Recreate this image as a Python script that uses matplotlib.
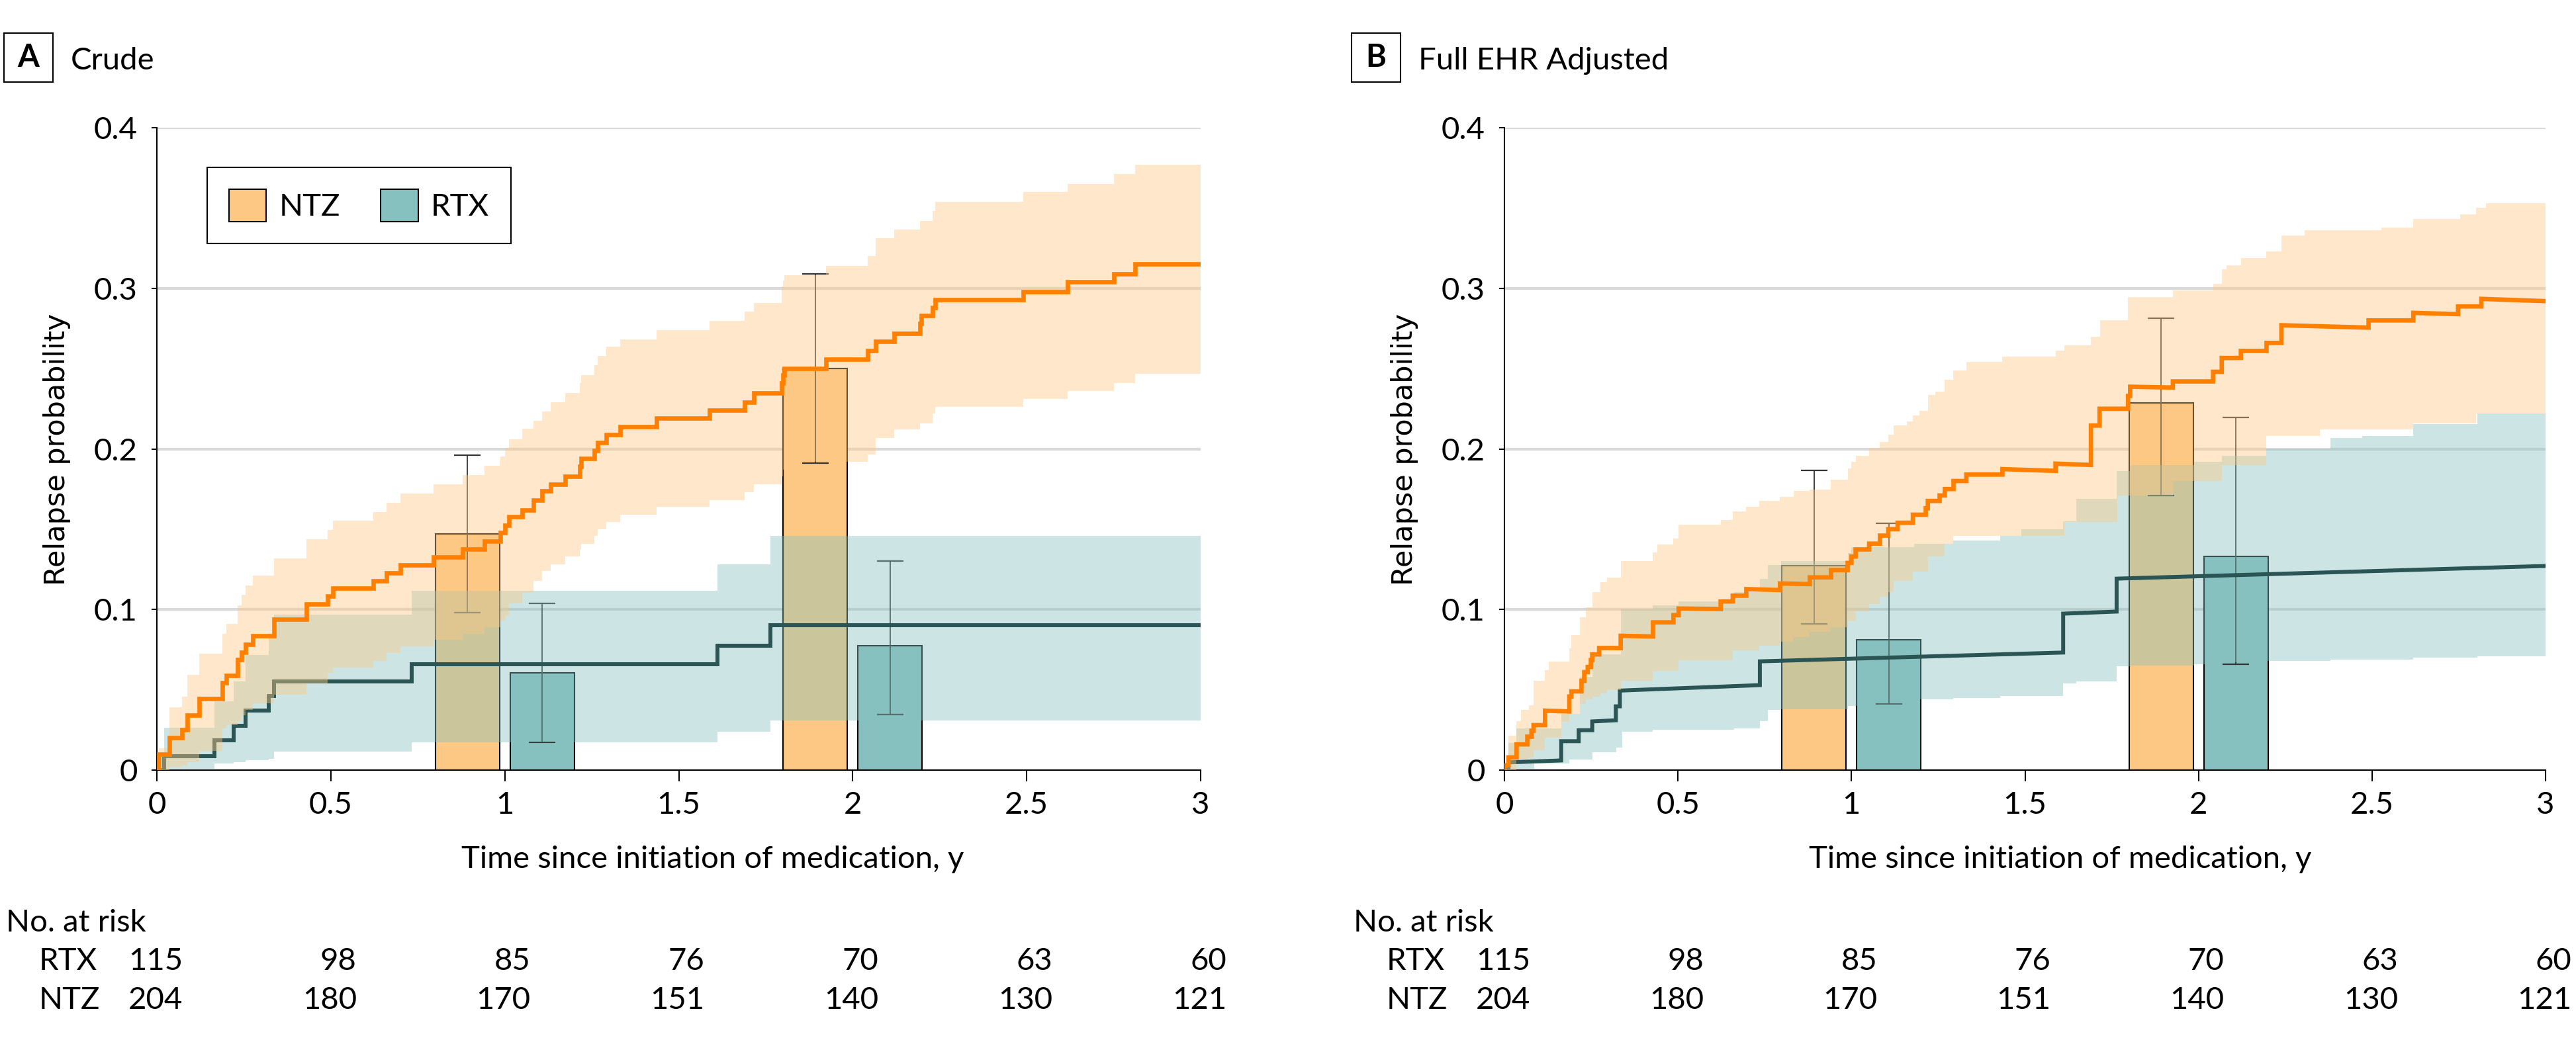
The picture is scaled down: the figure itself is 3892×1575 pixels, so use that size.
import numpy as np
import matplotlib
matplotlib.use("Agg")
import matplotlib.pyplot as plt
from matplotlib.patches import Patch, Rectangle
from matplotlib import transforms

plt.rcParams["font.family"] = ["Lato", "DejaVu Sans"]

# ---- data -------------------------------------------------------------
# Panel A (crude): step curves, value after each event time
ntz_a_t = [0.006, 0.036, 0.073, 0.087, 0.121, 0.189, 0.200, 0.233, 0.243, 0.254, 0.275, 0.336,
           0.429, 0.490, 0.506, 0.623, 0.661, 0.700, 0.796, 0.879, 0.941, 0.987, 1.000, 1.012,
           1.050, 1.082, 1.108, 1.131, 1.174, 1.216, 1.220, 1.258, 1.267, 1.292, 1.331, 1.436,
           1.588, 1.690, 1.715, 1.796, 1.799, 1.804, 1.923, 2.044, 2.066, 2.120, 2.193, 2.197,
           2.229, 2.238, 2.490, 2.617, 2.751, 2.812]
ntz_a_est = [0.0099, 0.0200, 0.0250, 0.0342, 0.0444, 0.0543, 0.0590, 0.0688, 0.0735, 0.0784, 0.0838, 0.0940,
             0.1035, 0.1085, 0.1134, 0.1180, 0.1229, 0.1276, 0.1326, 0.1377, 0.1425, 0.1479, 0.1524, 0.1578,
             0.162, 0.168, 0.174, 0.178, 0.183, 0.189, 0.194, 0.199, 0.204, 0.209, 0.214, 0.219,
             0.224, 0.229, 0.235, 0.241, 0.246, 0.250, 0.256, 0.261, 0.267, 0.272, 0.278, 0.283,
             0.288, 0.293, 0.298, 0.304, 0.309, 0.315]
ntz_a_hi = [0.0137, 0.039, 0.0459, 0.0593, 0.0724, 0.0847, 0.0909, 0.1026, 0.109, 0.115, 0.121, 0.1319,
            0.1436, 0.1494, 0.1552, 0.1608, 0.1666, 0.1723, 0.178, 0.1838, 0.1895, 0.1951, 0.2005, 0.2061,
            0.2124, 0.2176, 0.2234, 0.229, 0.235, 0.241, 0.246, 0.252, 0.258, 0.2637, 0.268, 0.274,
            0.2797, 0.2855, 0.291, 0.301, 0.305, 0.308, 0.314, 0.320, 0.331, 0.3366, 0.342, 0.342,
            0.348, 0.354, 0.360, 0.365, 0.371, 0.377]
ntz_a_lo = [0.0, 0.002, 0.003, 0.005, 0.012, 0.026, 0.028, 0.0305, 0.034, 0.0374, 0.0415, 0.047,
            0.054, 0.0607, 0.064, 0.068, 0.073, 0.077, 0.081, 0.085, 0.089, 0.093, 0.096, 0.104,
            0.1105, 0.118, 0.124, 0.128, 0.133, 0.137, 0.141, 0.146, 0.150, 0.1545, 0.159, 0.164,
            0.168, 0.173, 0.178, 0.183, 0.187, 0.192, 0.192, 0.1966, 0.2066, 0.212, 0.216, 0.216,
            0.222, 0.226, 0.231, 0.236, 0.241, 0.2466]

rtx_a_t = [0.020, 0.166, 0.2205, 0.254, 0.3223, 0.336, 0.733, 1.611, 1.764]
rtx_a_est = [0.0088, 0.0184, 0.0277, 0.0369, 0.0463, 0.0552, 0.0659, 0.0776, 0.0903]
rtx_a_hi = [0.0264, 0.043, 0.055, 0.0717, 0.085, 0.097, 0.1115, 0.128, 0.146]
rtx_a_lo = [0.001, 0.004, 0.005, 0.006, 0.007, 0.0115, 0.0171, 0.0237, 0.031]

# Panel B (adjusted): weighted curves drift between events -> value at start and end of each segment
ntz_b_t = [0.000, 0.0117, 0.035, 0.066, 0.078, 0.084, 0.117, 0.187, 0.193, 0.222, 0.230, 0.240, 0.249,
           0.253, 0.273, 0.335, 0.428, 0.487, 0.502, 0.623, 0.658, 0.697, 0.794, 0.880, 0.941, 0.989,
           1.000, 1.012, 1.051, 1.082, 1.106, 1.133, 1.177, 1.214, 1.220, 1.254, 1.269, 1.294, 1.331,
           1.435, 1.588, 1.690, 1.715, 1.797, 1.803, 1.926, 2.042, 2.067, 2.122, 2.196, 2.239, 2.490,
           2.619, 2.748, 2.815]
ntz_b_start = [0.003, 0.0079, 0.016, 0.0208, 0.0245, 0.028, 0.037, 0.0458, 0.049, 0.0556, 0.061, 0.0642, 0.0685,
               0.072, 0.076, 0.0836, 0.092, 0.0965, 0.1006, 0.105, 0.1086, 0.1127, 0.1162, 0.120, 0.1245, 0.129,
               0.133, 0.1374, 0.141, 0.146, 0.150, 0.154, 0.159, 0.163, 0.1676, 0.171, 0.175, 0.180, 0.184,
               0.1874, 0.1908, 0.2145, 0.225, 0.233, 0.2387, 0.242, 0.248, 0.2566, 0.261, 0.266, 0.277, 0.280,
               0.2847, 0.2887, 0.2934]
ntz_b_end = [0.003, 0.0079, 0.016, 0.0208, 0.0245, 0.028, 0.0365, 0.0458, 0.049, 0.0556, 0.061, 0.0642, 0.0685,
             0.072, 0.076, 0.0832, 0.092, 0.0965, 0.1003, 0.105, 0.1086, 0.1121, 0.1158, 0.120, 0.1245, 0.129,
             0.133, 0.1374, 0.141, 0.146, 0.150, 0.154, 0.159, 0.163, 0.1676, 0.171, 0.175, 0.180, 0.184,
             0.1863, 0.1900, 0.2145, 0.225, 0.233, 0.2382, 0.242, 0.248, 0.2566, 0.261, 0.266, 0.2755, 0.280,
             0.2839, 0.2887, 0.2920]
ntz_b_band_t = [0.000, 0.012, 0.035, 0.047, 0.070, 0.084, 0.117, 0.128, 0.164, 0.187, 0.193, 0.218, 0.234,
                0.253, 0.276, 0.296, 0.335, 0.428, 0.440, 0.487, 0.502, 0.623, 0.658, 0.697, 0.734, 0.794,
                0.833, 0.880, 0.941, 0.989, 1.000, 1.012, 1.051, 1.082, 1.106, 1.122, 1.160, 1.177, 1.196,
                1.220, 1.242, 1.269, 1.294, 1.331, 1.435, 1.588, 1.613, 1.690, 1.717, 1.766, 1.797, 1.926,
                2.042, 2.067, 2.080, 2.122, 2.196, 2.239, 2.306, 2.350, 2.527, 2.619, 2.754, 2.800, 2.828]
ntz_b_lo = [0.000, 0.000, 0.0064, 0.0064, 0.0079, 0.0124, 0.0200, 0.0200, 0.0300, 0.0350, 0.0350, 0.0410, 0.0440,
            0.0458, 0.0476, 0.0500, 0.0556, 0.0617, 0.0617, 0.0617, 0.0685, 0.0685, 0.0745, 0.0745, 0.0776, 0.0800,
            0.0830, 0.0860, 0.0890, 0.0927, 0.0927, 0.0988, 0.1033, 0.1080, 0.1110, 0.1180, 0.1180, 0.1237, 0.1237,
            0.1330, 0.1330, 0.1410, 0.1460, 0.1460, 0.1460, 0.1460, 0.1545, 0.1545, 0.1545, 0.1710, 0.1710, 0.1800,
            0.1800, 0.1900, 0.1900, 0.1900, 0.2080, 0.2080, 0.2080, 0.2120, 0.2120, 0.2160, 0.2160, 0.2220, 0.2220]
ntz_b_hi = [0.003, 0.0215, 0.0306, 0.0374, 0.0405, 0.0556, 0.0624, 0.0677, 0.0677, 0.0760, 0.0840, 0.0950, 0.1015,
            0.1110, 0.1170, 0.1200, 0.1300, 0.1356, 0.1405, 0.1440, 0.1530, 0.1556, 0.1610, 0.1640, 0.1677, 0.1703,
            0.1738, 0.1748, 0.1810, 0.1880, 0.1920, 0.1958, 0.2006, 0.2045, 0.2090, 0.2145, 0.2171, 0.2210, 0.2237,
            0.2334, 0.2355, 0.2430, 0.2487, 0.2540, 0.2574, 0.2611, 0.2645, 0.2700, 0.2800, 0.2800, 0.2947, 0.2987,
            0.3026, 0.3120, 0.3145, 0.3190, 0.3230, 0.3330, 0.3360, 0.3360, 0.3380, 0.3430, 0.3460, 0.3500, 0.3530]

rtx_b_t = [0.0117, 0.1636, 0.214, 0.253, 0.321, 0.3326, 0.736, 1.610, 1.764]
rtx_b_start = [0.0048, 0.018, 0.0248, 0.0303, 0.0397, 0.0495, 0.0677, 0.0974, 0.1192]
rtx_b_end = [0.006, 0.018, 0.0248, 0.031, 0.0397, 0.0529, 0.0732, 0.0987, 0.1271]
rtx_b_band_t = [0.012, 0.035, 0.086, 0.164, 0.187, 0.218, 0.253, 0.323, 0.335, 0.339, 0.428, 0.502, 0.662,
                0.736, 0.759, 0.797, 0.989, 1.000, 1.180, 1.294, 1.429, 1.490, 1.610, 1.647, 1.764, 1.803,
                1.987, 2.067, 2.196, 2.380, 2.472, 2.619, 2.803]
rtx_b_lo = [0.001, 0.001, 0.004, 0.004, 0.0064, 0.0064, 0.011, 0.014, 0.014, 0.024, 0.025, 0.025, 0.026,
            0.0306, 0.0374, 0.038, 0.040, 0.040, 0.044, 0.045, 0.046, 0.046, 0.054, 0.055, 0.0645, 0.065,
            0.066, 0.067, 0.068, 0.069, 0.069, 0.070, 0.071]
rtx_b_hi = [0.017, 0.026, 0.026, 0.035, 0.035, 0.058, 0.072, 0.072, 0.100, 0.100, 0.1026, 0.105, 0.111,
            0.119, 0.1276, 0.130, 0.135, 0.139, 0.141, 0.143, 0.146, 0.150, 0.155, 0.169, 0.186, 0.190,
            0.192, 0.1955, 0.200, 0.2066, 0.208, 0.2155, 0.222]

# yearly relapse proportions (bars) with 95% CI
bar_years = [1, 2]
ntz_a_bar, ntz_a_bar_lo, ntz_a_bar_hi = [0.147, 0.250], [0.098, 0.191], [0.196, 0.309]
rtx_a_bar, rtx_a_bar_lo, rtx_a_bar_hi = [0.0605, 0.0776], [0.0171, 0.0347], [0.104, 0.130]
ntz_b_bar, ntz_b_bar_lo, ntz_b_bar_hi = [0.1273, 0.2287], [0.0912, 0.171], [0.1867, 0.2813]
rtx_b_bar, rtx_b_bar_lo, rtx_b_bar_hi = [0.081, 0.1332], [0.0413, 0.0658], [0.1536, 0.2197]

# number at risk
risk_times = [0, 0.5, 1, 1.5, 2, 2.5, 3]
risk_rtx = [115, 98, 85, 76, 70, 63, 60]
risk_ntz = [204, 180, 170, 151, 140, 130, 121]

# ---- style ------------------------------------------------------------
NTZ_LINE, RTX_LINE = "#ff8000", "#2b5555"
NTZ_FILL, RTX_FILL = "#fdc883", "#86c1c0"
BAND_ALPHA = 0.42
W, H = 3892, 1575
FS = 34


def fx(px):
    return px / W


def fy(py):
    return 1 - py / H


def step_xy(t, v, t_end=3.0):
    return np.r_[0, t, t_end], np.r_[0, v, v[-1]]


def drift_xy(t, v0, v1, t_end=3.0):
    xs, ys = [0.0], [0.0]
    bounds = list(t[1:]) + [t_end]
    for ti, a, b, te in zip(t, v0, v1, bounds):
        xs += [ti, ti, te]
        ys += [ys[-1], a, b]
    return xs, ys


def draw_bars(ax, ntz, ntz_lo, ntz_hi, rtx, rtx_lo, rtx_hi):
    yrs = np.array(bar_years, dtype=float)
    for off, val, lo, hi, col in [(-0.1075, ntz, ntz_lo, ntz_hi, NTZ_FILL),
                                  (0.1075, rtx, rtx_lo, rtx_hi, RTX_FILL)]:
        val, lo, hi = map(np.array, (val, lo, hi))
        ax.bar(yrs + off, val, width=0.185, color=col, edgecolor="black", linewidth=1.5, zorder=1)
        ax.errorbar(yrs + off, val, yerr=[val - lo, hi - val], fmt="none", ecolor="#333333",
                    elinewidth=1.3, capsize=14.4, capthick=1.6, zorder=1.5)


def style_axes(ax):
    ax.set_xlim(0, 3)
    ax.set_ylim(0, 0.4)
    for s in ("top", "right"):
        ax.spines[s].set_visible(False)
    for s in ("left", "bottom"):
        ax.spines[s].set_linewidth(1.5)
    for g in (0.1, 0.2, 0.3, 0.4):
        ax.axhline(g, color="#d9d9d9", lw=3, zorder=0)
    ax.set_xticks(risk_times)
    ax.set_xticklabels(["0", "0.5", "1", "1.5", "2", "2.5", "3"])
    ax.set_yticks([0, 0.1, 0.2, 0.3, 0.4])
    ax.set_yticklabels(["0", "0.1", "0.2", "0.3", "0.4"])
    ax.tick_params(axis="x", length=12, width=1.5, pad=11, labelsize=FS)
    ax.tick_params(axis="y", length=6, width=1.5, pad=15, labelsize=FS)


def annotate_panel(fig, ax, dx, letter, title):
    fig.add_artist(Rectangle((fx(6 + dx), fy(124)), fx(74), 74 / H, transform=fig.transFigure,
                             fill=False, edgecolor="black", lw=1.5))
    fig.text(fx(43 + dx), fy(87), letter, fontsize=FS, fontweight="bold", ha="center", va="center")
    fig.text(fx(107 + dx), fy(105), title, fontsize=FS, ha="left", va="baseline")
    fig.text(fx(86 + dx), fy(679), "Relapse probability", family="DejaVu Sans", fontsize=31,
             rotation=90, ha="center", va="center")
    fig.text(fx(1077 + dx), fy(1312), "Time since initiation of medication, y", fontsize=FS,
             ha="center", va="baseline")
    # number at risk table
    fig.text(fx(9 + dx), fy(1408), "No. at risk", fontsize=FS, ha="left", va="baseline")
    trans = transforms.blended_transform_factory(ax.transData, fig.transFigure)
    trans = transforms.offset_copy(trans, fig=fig, x=39 * 0.72, y=0, units="points")
    for name, counts, base in [("RTX", risk_rtx, 1466), ("NTZ", risk_ntz, 1525)]:
        fig.text(fx(59 + dx), fy(base), name, fontsize=FS, ha="left", va="baseline")
        for t, n in zip(risk_times, counts):
            ax.text(t, fy(base), str(n), transform=trans, fontsize=FS, ha="right",
                    va="baseline", clip_on=False)


fig = plt.figure(figsize=(W / 100, H / 100), dpi=100)
axA = fig.add_axes([fx(237), fy(1164), fx(1577), 971 / H])
axB = fig.add_axes([fx(2273), fy(1164), fx(1573), 971 / H])

# ---- panel A ----------------------------------------------------------
draw_bars(axA, ntz_a_bar, ntz_a_bar_lo, ntz_a_bar_hi, rtx_a_bar, rtx_a_bar_lo, rtx_a_bar_hi)
x, lo = step_xy(rtx_a_t, rtx_a_lo)
_, hi = step_xy(rtx_a_t, rtx_a_hi)
axA.fill_between(x, lo, hi, step="post", color=RTX_FILL, alpha=BAND_ALPHA, lw=0, zorder=2)
x, y = step_xy(rtx_a_t, rtx_a_est)
axA.step(x, y, where="post", color=RTX_LINE, lw=4.3, zorder=3, solid_joinstyle="miter")
x, lo = step_xy(ntz_a_t, ntz_a_lo)
_, hi = step_xy(ntz_a_t, ntz_a_hi)
axA.fill_between(x, lo, hi, step="post", color=NTZ_FILL, alpha=BAND_ALPHA, lw=0, zorder=4)
x, y = step_xy(ntz_a_t, ntz_a_est)
axA.step(x, y, where="post", color=NTZ_LINE, lw=4.8, zorder=5, solid_joinstyle="miter")
style_axes(axA)

leg = axA.legend(handles=[Patch(facecolor=NTZ_FILL, edgecolor="black", lw=1.5, label="NTZ"),
                          Patch(facecolor=RTX_FILL, edgecolor="black", lw=1.5, label="RTX")],
                 ncol=2, loc="upper left", bbox_to_anchor=(0.048, 0.938), borderaxespad=0,
                 fontsize=FS, handlelength=1.2, handleheight=1.2, handletextpad=0.4,
                 columnspacing=1.3, borderpad=0.7, fancybox=False, framealpha=1)
leg.get_frame().set_edgecolor("black")
leg.get_frame().set_linewidth(1.5)
leg.set_zorder(10)

# ---- panel B ----------------------------------------------------------
draw_bars(axB, ntz_b_bar, ntz_b_bar_lo, ntz_b_bar_hi, rtx_b_bar, rtx_b_bar_lo, rtx_b_bar_hi)
x, lo = step_xy(rtx_b_band_t, rtx_b_lo)
_, hi = step_xy(rtx_b_band_t, rtx_b_hi)
axB.fill_between(x, lo, hi, step="post", color=RTX_FILL, alpha=BAND_ALPHA, lw=0, zorder=2)
x, y = drift_xy(rtx_b_t, rtx_b_start, rtx_b_end)
axB.plot(x, y, color=RTX_LINE, lw=4.3, zorder=3, solid_joinstyle="miter")
x, lo = step_xy(ntz_b_band_t, ntz_b_lo)
_, hi = step_xy(ntz_b_band_t, ntz_b_hi)
axB.fill_between(x, lo, hi, step="post", color=NTZ_FILL, alpha=BAND_ALPHA, lw=0, zorder=4)
x, y = drift_xy(ntz_b_t, ntz_b_start, ntz_b_end)
axB.plot(x, y, color=NTZ_LINE, lw=4.8, zorder=5, solid_joinstyle="miter")
style_axes(axB)

annotate_panel(fig, axA, 0, "A", "Crude")
annotate_panel(fig, axB, 2036, "B", "Full EHR Adjusted")

fig.savefig("out.png", dpi=100)
